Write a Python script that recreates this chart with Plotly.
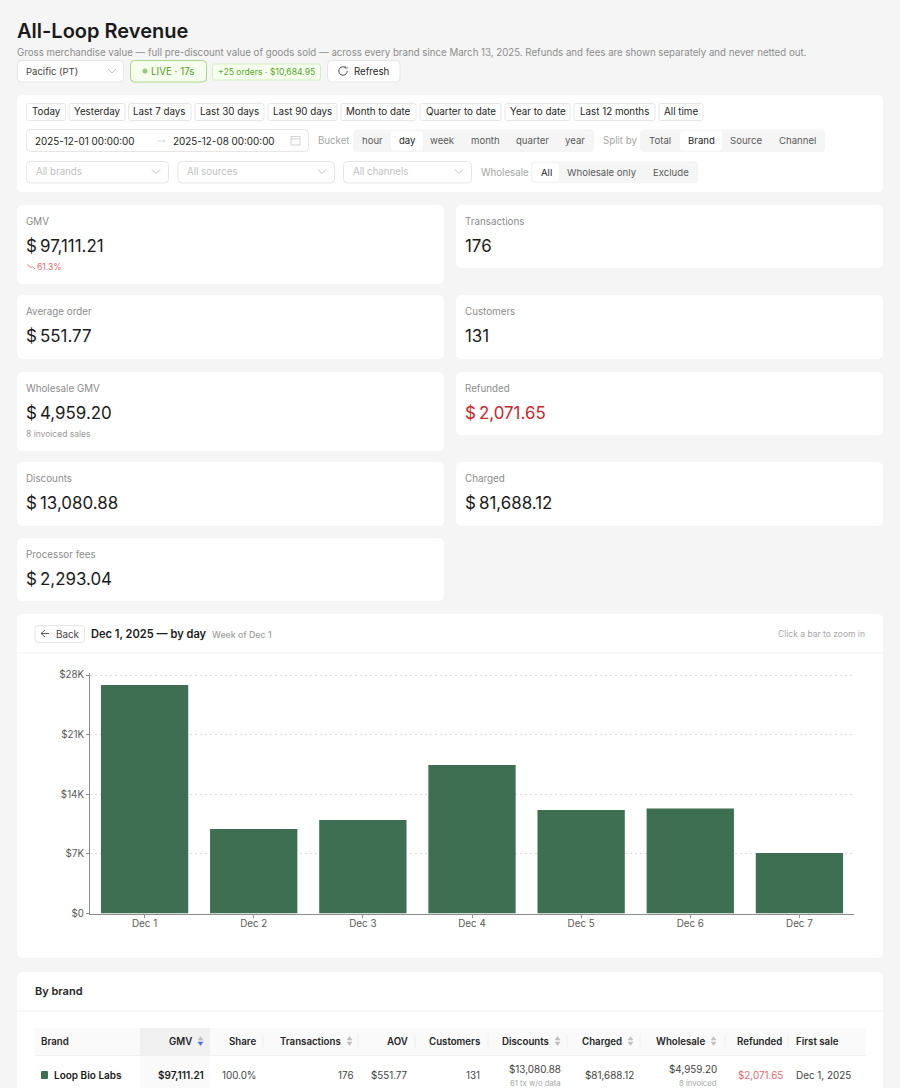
import math
import plotly.graph_objects as go

W = 900
H = 1088
FONT = "Inter"

# chart data
days = ["Dec 1", "Dec 2", "Dec 3", "Dec 4", "Dec 5", "Dec 6", "Dec 7"]
gmv_by_day = [26830, 9920, 10980, 17430, 12150, 12330, 7100]
y_ticks = [0, 7000, 14000, 21000, 28000]
y_tick_labels = ["$0", "$7K", "$14K", "$21K", "$28K"]

# page texts
range_presets = ["Today", "Yesterday", "Last 7 days", "Last 30 days", "Last 90 days", "Month to date",
                 "Quarter to date", "Year to date", "Last 12 months", "All time"]
bucket_options = ["hour", "day", "week", "month", "quarter", "year"]
split_options = ["Total", "Brand", "Source", "Channel"]
wholesale_options = ["All", "Wholesale only", "Exclude"]
filter_selects = ["All brands", "All sources", "All channels"]

kpi_names = ["GMV", "Transactions", "Average order", "Customers", "Wholesale GMV", "Refunded",
             "Discounts", "Charged", "Processor fees"]
kpi_values = ["$ 97,111.21", "176", "$ 551.77", "131", "$ 4,959.20", "$ 2,071.65",
              "$ 13,080.88", "$ 81,688.12", "$ 2,293.04"]

table_headers = ["Brand", "GMV", "Share", "Transactions", "AOV", "Customers", "Discounts", "Charged",
                 "Wholesale", "Refunded", "First sale"]
table_row = ["Loop Bio Labs", "$97,111.21", "100.0%", "176", "$551.77", "131", "$13,080.88", "$81,688.12",
             "$4,959.20", "$2,071.65", "Dec 1, 2025"]

shapes = []
notes = []


def px(x):
    return x / W


def py(y):
    return 1 - y / H


def box(x0, y0, x1, y1, fill="#ffffff", line=None, r=4):
    d = (f"M {px(x0 + r)} {py(y0)} L {px(x1 - r)} {py(y0)} Q {px(x1)} {py(y0)} {px(x1)} {py(y0 + r)} "
         f"L {px(x1)} {py(y1 - r)} Q {px(x1)} {py(y1)} {px(x1 - r)} {py(y1)} "
         f"L {px(x0 + r)} {py(y1)} Q {px(x0)} {py(y1)} {px(x0)} {py(y1 - r)} "
         f"L {px(x0)} {py(y0 + r)} Q {px(x0)} {py(y0)} {px(x0 + r)} {py(y0)} Z")
    shapes.append(dict(type="path", path=d, xref="paper", yref="paper", fillcolor=fill, layer="below",
                       line=dict(color=line or fill, width=1 if line else 0)))


def poly(points, color="#8c8c8c", width=1, fill=None):
    d = "M " + " L ".join(f"{px(a)} {py(b)}" for a, b in points)
    if fill:
        d += " Z"
    shapes.append(dict(type="path", path=d, xref="paper", yref="paper", layer="above",
                       fillcolor=fill or "rgba(0,0,0,0)", line=dict(color=color, width=width)))


def text(x, y, s, size=10, color="#434343", anchor="left", weight=400):
    if anchor == "left":
        x -= 0.8
    notes.append(dict(x=px(x), y=py(y), xref="paper", yref="paper", text=s, showarrow=False, xanchor=anchor,
                      yanchor="middle", borderpad=0, font=dict(family=FONT, size=size, color=color, weight=weight)))


def chevron(x, y):
    poly([(x - 4, y - 2), (x, y + 2), (x + 4, y - 2)], "#bfbfbf", 1)


def segmented(x0, x1, y0, y1, labels, centers, selected):
    box(x0, y0, x1, y1, "#f5f5f5", None, 4)
    sx0, sx1 = selected
    box(sx0, y0 + 1.5, sx1, y1 - 1.5, "#ffffff", None, 3)
    for lab, c in zip(labels, centers):
        on = sx0 < c < sx1
        text(c, (y0 + y1) / 2, lab, 9.6, "#262626" if on else "#595959", "center")


def sort_arrows(x, y, active=False):
    up = "#bfbfbf"
    down = "#4d6fe0" if active else "#bfbfbf"
    poly([(x - 2.5, y - 1), (x + 2.5, y - 1), (x, y - 4.5)], up, 0.5, up)
    poly([(x - 2.5, y + 1), (x + 2.5, y + 1), (x, y + 4.5)], down, 0.5, down)


# header
text(17, 31, "All-Loop Revenue", 20, "#1a1a1a", weight=600)
text(17, 52, "Gross merchandise value — full pre-discount value of goods sold — across every brand since "
     "March 13, 2025. Refunds and fees are shown separately and never netted out.", 9.7, "#8c8c8c")
box(17.5, 60.5, 123.5, 82, "#ffffff", "#e6e6e6")
text(26, 71, "Pacific (PT)", 9.5, "#434343")
chevron(112, 71)
box(130.5, 60.5, 206.5, 82, "#f6ffed", "#a9d68c")
shapes.append(dict(type="circle", xref="paper", yref="paper", x0=px(142.5), x1=px(147.5), y0=py(73.5), y1=py(68.5),
                   fillcolor="#95c97f", line=dict(width=0), layer="above"))
text(151, 71, "LIVE · 17s", 9.8, "#52a01f")
box(212.5, 64, 320.5, 80, "#f6ffed", "#d5edbf", 2)
text(218, 72, "+25 orders · $10,684.95", 8.6, "#5aa630")
box(327.5, 60.5, 400, 82, "#ffffff", "#e6e6e6")
poly([(343 + 4.2 * math.cos(math.radians(a)), 71 + 4.2 * math.sin(math.radians(a))) for a in range(0, 310, 20)],
     "#434343", 1)
poly([(345, 66), (345.6, 68.2), (347.8, 67.8)], "#434343", 0.8)
text(354, 71, "Refresh", 9.7, "#262626")

# filter card
box(17, 95, 883, 192, "#ffffff", None, 6)
preset_edges = [(26.5, 65.5), (69, 125), (128.5, 191), (195, 264), (268, 337), (341, 416), (420, 501),
                (505, 570), (574, 655), (659, 703)]
for lab, (a, b) in zip(range_presets, preset_edges):
    box(a, 103.5, b, 120.5, "#ffffff", "#e6e6e6", 2)
    text((a + b) / 2, 112, lab, 9.8, "#262626", "center")

box(26.5, 129.5, 308.5, 151.5, "#ffffff", "#e6e6e6")
text(35, 140.5, "2025-12-01 00:00:00", 9.9, "#262626")
poly([(157, 141), (165, 141)], "#d0d0d0", 0.8)
poly([(163, 139.5), (165, 141), (163, 142.5)], "#d0d0d0", 0.8)
text(173, 140.5, "2025-12-08 00:00:00", 9.9, "#262626")
poly([(291, 136.5), (300, 136.5), (300, 145), (291, 145), (291, 136.5)], "#c8c8c8", 0.8)
poly([(291, 139), (300, 139)], "#c8c8c8", 0.8)

text(318, 140.5, "Bucket", 9.7, "#a6a6a6")
segmented(353, 594, 129.5, 152, bucket_options, [372, 407, 442.5, 485, 532.5, 575], (391, 423))
text(603, 140.5, "Split by", 9.7, "#a6a6a6")
segmented(640, 825, 129.5, 152, split_options, [660, 701, 746, 797], (680, 722))

select_edges = [(26.5, 168.5), (178, 334.5), (343.5, 471.5)]
for lab, (a, b) in zip(filter_selects, select_edges):
    box(a, 161.5, b, 183, "#ffffff", "#e6e6e6")
    text(a + 9, 171.5, lab, 9.7, "#bfbfbf")
    chevron(b - 12.5, 171.5)
text(481, 172, "Wholesale", 9.7, "#a6a6a6")
segmented(531, 698, 161.5, 183, wholesale_options, [546, 602, 671], (532.5, 559))

# KPI cards, left column then right column positions follow kpi_names order
kpi_boxes = [(17, 205, 444, 284), (456, 205, 883, 268), (17, 295, 444, 359), (456, 295, 883, 359),
             (17, 372, 444, 451), (456, 372, 883, 435), (17, 462, 444, 526), (456, 462, 883, 526),
             (17, 538, 444, 601)]
for name, val, (a, b, c, d) in zip(kpi_names, kpi_values, kpi_boxes):
    box(a, b, c, d, "#ffffff", None, 6)
    col = "#c9262b" if name == "Refunded" else "#1a1a1a"
    text(a + 9, b + 16.5, name, 9.8, "#8c8c8c")
    if val.startswith("$ "):
        text(a + 9, b + 41, "$", 17, col)
        text(a + 23, b + 41, val[2:], 16.9, col)
    else:
        text(a + 9, b + 41, val, 16.9, col)

poly([(27, 264.5), (31, 267.5), (32.5, 266.5), (35, 269)], "#e8686a", 0.8)
text(37, 267, "61.3%", 8.5, "#e8686a")
text(26, 434, "8 invoiced sales", 8.5, "#9a9a9a")

# chart card
box(17, 614, 883, 958, "#ffffff", None, 6)
poly([(17, 653), (883, 653)], "#f2f2f2", 1)
box(35, 625.5, 84.5, 642.5, "#ffffff", "#e6e6e6", 3)
poly([(41, 633.5), (49, 633.5)], "#595959", 1)
poly([(45, 630), (41, 633.5), (45, 637)], "#595959", 1)
text(56, 634, "Back", 9.8, "#434343")
text(91, 633.5, "Dec 1, 2025 — by day", 11.1, "#1a1a1a", weight=600)
text(212, 634.5, "Week of Dec 1", 8.8, "#a0a0a0", weight=500)
text(865.5, 633.5, "Click a bar to zoom in", 8.5, "#a6a6a6", "right")

# table card, runs off the bottom of the page
box(17, 972, 883, 1100, "#ffffff", None, 6)
poly([(17, 1011), (883, 1011)], "#f2f2f2", 1)
text(35, 991, "By brand", 11, "#262626", weight=600)
box(35, 1028, 866, 1055.5, "#fafafa", None, 2)
shapes.append(dict(type="rect", xref="paper", yref="paper", x0=px(140), x1=px(210), y0=py(1028), y1=py(1055.5),
                   fillcolor="#f0f0f0", line=dict(width=0), layer="below"))
shapes.append(dict(type="rect", xref="paper", yref="paper", x0=px(140), x1=px(210), y0=py(1055.5), y1=py(1088),
                   fillcolor="#fafafa", line=dict(width=0), layer="below"))
poly([(35, 1055.5), (866, 1055.5)], "#f0f0f0", 1)
for sep in [263, 358, 415, 488, 567, 640, 725, 788]:
    poly([(sep, 1035), (sep, 1048)], "#f0f0f0", 1)

header_right = [None, 193, 257, 342, 409, 481, 550, 623, 706, 783, None]
row_right = [None, 205, 257, 354, 409, 481, 562, 635, 718, 784, None]
for i, lab in enumerate(table_headers):
    if header_right[i] is None:
        continue
    text(header_right[i], 1041, lab, 9.7, "#262626", "right", 600)
text(41, 1041, table_headers[0], 9.7, "#262626", weight=600)
text(795.5, 1041, table_headers[10], 9.7, "#262626", weight=600)
sort_arrows(200.5, 1041, True)
sort_arrows(349.5, 1041)
sort_arrows(557.5, 1041)
sort_arrows(630.5, 1041)
sort_arrows(713.5, 1041)

box(41, 1071, 48, 1079, "#3f6f52", None, 1)
text(54, 1075, table_row[0], 10, "#1a1a1a", weight=600)
text(row_right[1], 1075, table_row[1], 10, "#1a1a1a", "right", 600)
text(row_right[2], 1075, table_row[2], 9.8, "#434343", "right")
text(row_right[3], 1075, table_row[3], 9.8, "#434343", "right")
text(row_right[4], 1075, table_row[4], 9.8, "#434343", "right")
text(row_right[5], 1075, table_row[5], 9.8, "#434343", "right")
text(row_right[6], 1069, table_row[6], 9.9, "#434343", "right")
text(row_right[6], 1083, "61 tx w/o data", 7.7, "#a6a6a6", "right")
text(row_right[7], 1075, table_row[7], 9.9, "#434343", "right")
text(row_right[8], 1069, table_row[8], 9.9, "#434343", "right")
text(row_right[8], 1083, "8 invoiced", 7.7, "#a6a6a6", "right")
text(row_right[9], 1075, table_row[9], 9.9, "#e8686a", "right")
text(795.5, 1075, table_row[10], 9.9, "#434343")

fig = go.Figure(go.Bar(x=days, y=gmv_by_day, marker=dict(color="#3f6f52", line=dict(width=0)), width=0.8))

fig.update_layout(
    width=W, height=H, margin=dict(l=0, r=0, t=0, b=0, autoexpand=False), autosize=False,
    paper_bgcolor="#f5f5f5", plot_bgcolor="rgba(0,0,0,0)", showlegend=False,
    shapes=shapes, annotations=notes, font=dict(family=FONT),
    xaxis=dict(domain=[px(90), px(854)], anchor="y", showline=True, linecolor="#8c8c8c", linewidth=1, ticks="outside",
               ticklen=3, tickcolor="#8c8c8c", tickfont=dict(family=FONT, size=9.8, color="#595959"), showgrid=False,
               range=[-0.5, 6.5], fixedrange=True, ticklabelstandoff=-2),
    # range runs just past 28K so plotly keeps the top gridline
    yaxis=dict(domain=[py(913.5), py(673.3)], anchor="x", range=[0, 28200], tickvals=y_ticks, ticktext=y_tick_labels,
               showline=True, linecolor="#8c8c8c", linewidth=1, ticks="outside", ticklen=3, tickcolor="#8c8c8c",
               tickfont=dict(family=FONT, size=9.8, color="#595959"), showgrid=True, gridcolor="#dcdcdc",
               griddash="2px,3px", gridwidth=1, zeroline=False, fixedrange=True),
)

fig.write_html("out.html", config=dict(displayModeBar=False),
               post_script="document.body.style.margin='0';document.body.style.overflow='hidden';")
